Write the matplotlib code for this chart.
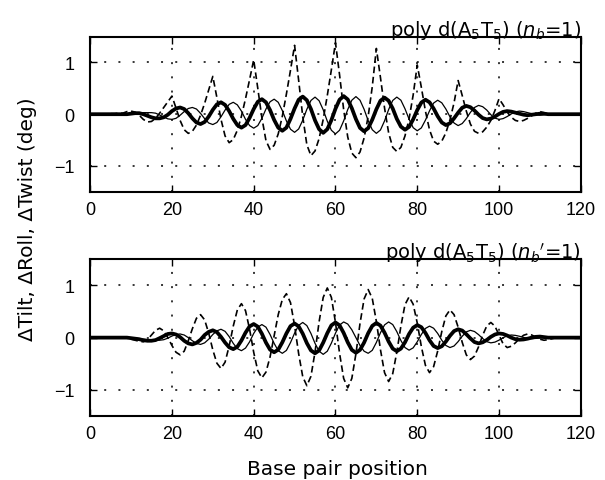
import numpy as np
import matplotlib
matplotlib.use("Agg")
import matplotlib.pyplot as plt

plt.rcParams["font.family"] = ["Liberation Sans", "DejaVu Sans"]
plt.rcParams["mathtext.fontset"] = "dejavusans"

# base pair positions
bp = np.arange(0, 121)

# ---- top panel: poly d(A5T5), n_b = 1 ----
top_dashed = [
    0, 0, 0, 0, 0, 0.01, 0.01, 0.02, 0.02, 0.05,
    0.06, 0.04, -0.02, -0.10, -0.15, -0.14, -0.08, 0.02, 0.13, 0.24,
    0.35, 0.12, -0.12, -0.30, -0.37, -0.33, -0.21, -0.02, 0.21, 0.47,
    0.73, 0.32, -0.10, -0.42, -0.55, -0.49, -0.31, -0.04, 0.30, 0.67,
    1.05, 0.50, -0.07, -0.51, -0.68, -0.60, -0.38, -0.04, 0.39, 0.85,
    1.33, 0.65, -0.05, -0.59, -0.80, -0.71, -0.47, -0.10, 0.36, 0.86,
    1.38, 0.76, 0.09, -0.44, -0.75, -0.84, -0.73, -0.46, -0.04, 0.53,
    1.27, 0.71, 0.12, -0.36, -0.64, -0.72, -0.64, -0.42, -0.09, 0.37,
    0.95, 0.52, 0.06, -0.30, -0.52, -0.58, -0.52, -0.36, -0.11, 0.22,
    0.65, 0.36, 0.06, -0.19, -0.33, -0.37, -0.34, -0.25, -0.12, 0.07,
    0.30, 0.18, 0.04, -0.06, -0.12, -0.14, -0.12, -0.08, -0.03, 0.02,
    0.05, 0.03, 0.0, -0.01, -0.01, 0, 0, 0, 0, 0,
    0,
]
top_thick = [
    0, 0, 0, 0, 0, 0, 0, 0, 0, 0,
    0.01, 0.02, 0.02, 0.0, -0.03, -0.06, -0.08, -0.08, -0.06, -0.01,
    0.06, 0.11, 0.13, 0.10, 0.02, -0.08, -0.16, -0.19, -0.15, -0.045,
    0.085, 0.19, 0.23, 0.18, 0.06, -0.09, -0.21, -0.26, -0.21, -0.07,
    0.10, 0.24, 0.29, 0.23, 0.08, -0.11, -0.26, -0.32, -0.26, -0.09,
    0.11, 0.28, 0.34, 0.27, 0.10, -0.12, -0.29, -0.36, -0.29, -0.115,
    0.105, 0.28, 0.35, 0.285, 0.115, -0.095, -0.265, -0.33, -0.27, -0.105,
    0.095, 0.26, 0.32, 0.26, 0.11, -0.09, -0.24, -0.30, -0.245, -0.10,
    0.08, 0.225, 0.28, 0.23, 0.11, -0.04, -0.16, -0.21, -0.175, -0.08,
    0.03, 0.125, 0.16, 0.135, 0.07, -0.01, -0.075, -0.10, -0.085, -0.045,
    0.005, 0.045, 0.06, 0.05, 0.03, 0.01, -0.01, -0.02, -0.01, 0.0,
    0.01, 0.01, 0, 0, 0, 0, 0, 0, 0, 0,
    0,
]
top_thin = [
    0, 0, 0, 0, 0, 0, 0, 0, 0, 0,
    0.01, 0.02, 0.03, 0.03, 0.03, 0.03, 0.02, -0.015, -0.055, -0.09,
    -0.10, -0.08, -0.02, 0.05, 0.11, 0.13, 0.10, 0.016, -0.086, -0.17,
    -0.20, -0.16, -0.05, 0.08, 0.19, 0.23, 0.18, 0.06, -0.10, -0.22,
    -0.27, -0.22, -0.08, 0.10, 0.24, 0.29, 0.23, 0.07, -0.13, -0.29,
    -0.35, -0.285, -0.115, 0.095, 0.265, 0.33, 0.26, 0.085, -0.135, -0.31,
    -0.38, -0.31, -0.13, 0.09, 0.27, 0.34, 0.27, 0.095, -0.125, -0.30,
    -0.37, -0.305, -0.13, 0.09, 0.265, 0.33, 0.27, 0.105, -0.095, -0.26,
    -0.32, -0.265, -0.115, 0.065, 0.215, 0.27, 0.22, 0.10, -0.05, -0.17,
    -0.22, -0.18, -0.085, 0.035, 0.13, 0.17, 0.145, 0.08, -0.01, -0.075,
    -0.10, -0.085, -0.045, 0.005, 0.045, 0.06, 0.05, 0.03, 0.01, -0.01,
    -0.02, -0.01, 0, 0, 0, 0, 0, 0, 0, 0,
    0,
]

# ---- bottom panel: poly d(A5T5), n_b' = 1 ----
bot_dashed = [
    0, 0, 0, 0, 0, 0, 0, 0, 0, -0.01,
    -0.03, -0.05, -0.07, -0.08, -0.04, 0.05, 0.14, 0.18, 0.13, 0.0,
    -0.15, -0.28, -0.33, -0.26, -0.06, 0.17, 0.37, 0.44, 0.34, 0.085,
    -0.235, -0.49, -0.59, -0.47, -0.16, 0.22, 0.53, 0.65, 0.515, 0.16,
    -0.28, -0.635, -0.77, -0.66, -0.37, 0.035, 0.44, 0.73, 0.84, 0.67,
    0.23, -0.31, -0.75, -0.92, -0.74, -0.275, 0.305, 0.77, 0.95, 0.77,
    0.29, -0.30, -0.78, -0.96, -0.78, -0.31, 0.27, 0.74, 0.92, 0.75,
    0.31, -0.23, -0.67, -0.84, -0.69, -0.28, 0.22, 0.63, 0.78, 0.64,
    0.28, -0.17, -0.53, -0.67, -0.556, -0.256, 0.116, 0.416, 0.53, 0.44,
    0.20, -0.09, -0.33, -0.42, -0.353, -0.175, 0.045, 0.223, 0.29, 0.22,
    0.05, -0.12, -0.19, -0.165, -0.10, -0.02, 0.045, 0.07, 0.05, 0.01,
    -0.03, -0.05, -0.04, -0.02, 0.0, 0.01, 0.01, 0, 0, 0,
    0,
]
bot_thick = [
    0, 0, 0, 0, 0, 0, 0, 0, 0, 0,
    -0.01, -0.02, -0.03, -0.05, -0.06, -0.06, -0.047, -0.01, 0.03, 0.07,
    0.08, 0.06, 0.01, -0.06, -0.11, -0.13, -0.10, -0.04, 0.05, 0.11,
    0.14, 0.105, 0.015, -0.095, -0.185, -0.22, -0.175, -0.055, 0.095, 0.215,
    0.26, 0.21, 0.075, -0.095, -0.23, -0.28, -0.23, -0.09, 0.08, 0.22,
    0.27, 0.215, 0.075, -0.105, -0.245, -0.30, -0.245, -0.095, 0.085, 0.235,
    0.29, 0.235, 0.09, -0.09, -0.235, -0.29, -0.235, -0.095, 0.085, 0.225,
    0.28, 0.23, 0.095, -0.075, -0.21, -0.26, -0.21, -0.09, 0.07, 0.19,
    0.24, 0.20, 0.09, -0.05, -0.16, -0.20, -0.165, -0.075, 0.035, 0.125,
    0.16, 0.135, 0.065, -0.015, -0.085, -0.11, -0.09, -0.045, 0.015, 0.06,
    0.08, 0.07, 0.04, 0.0, -0.03, -0.04, -0.035, -0.02, 0.0, 0.015,
    0.02, 0.01, 0, 0, 0, 0, 0, 0, 0, 0,
    0,
]
bot_thin = [
    0, 0, 0, 0, 0, 0, 0, 0, 0, 0,
    -0.01, -0.01, -0.02, -0.03, -0.04, -0.05, -0.05, -0.05, -0.04, -0.01,
    0.03, 0.06, 0.07, 0.05, 0.0, -0.06, -0.11, -0.13, -0.10, -0.03,
    0.06, 0.13, 0.16, 0.12, 0.02, -0.11, -0.21, -0.25, -0.20, -0.08,
    0.08, 0.20, 0.25, 0.20, 0.06, -0.11, -0.25, -0.30, -0.245, -0.095,
    0.085, 0.235, 0.29, 0.23, 0.08, -0.11, -0.26, -0.32, -0.26, -0.105,
    0.085, 0.24, 0.30, 0.26, 0.15, 0.0, -0.15, -0.26, -0.30, -0.243,
    -0.093, 0.093, 0.243, 0.30, 0.25, 0.115, -0.055, -0.19, -0.24, -0.196,
    -0.08, 0.06, 0.176, 0.22, 0.18, 0.08, -0.05, -0.15, -0.19, -0.16,
    -0.076, 0.026, 0.11, 0.14, 0.117, 0.057, -0.017, -0.077, -0.10, -0.086,
    -0.048, -0.002, 0.036, 0.05, 0.043, 0.026, 0.004, -0.013, -0.02, -0.015,
    -0.01, 0, 0, 0, 0, 0, 0, 0, 0, 0,
    0,
]

titles = [r"poly d(A$_5$T$_5$) ($n_b$=1)", r"poly d(A$_5$T$_5$) ($n_b$$'$=1)"]
label_font = "DejaVu Sans"


def style_axes(ax, title):
    ax.set_xlim(0, 120)
    ax.set_ylim(-1.5, 1.5)
    ax.set_xticks(range(0, 121, 20))
    ax.set_yticks([-1, 0, 1])
    ax.grid(True, color="black", linestyle=(0, (1.3, 8.0)), linewidth=1.1)
    ax.tick_params(direction="in", top=True, right=True, length=5, width=1,
                   labelsize=13)
    ax.tick_params(axis="x", pad=6.5)
    ax.tick_params(axis="y", pad=11)
    for s in ax.spines.values():
        s.set_linewidth(1.5)
    ax.set_title(title, loc="right", fontsize=14, pad=1, family=label_font)


fig = plt.figure(figsize=(6.05, 4.81), dpi=100)
ax_top = fig.add_axes([0.149, 0.599, 0.811, 0.323])
ax_bot = fig.add_axes([0.149, 0.133, 0.811, 0.326])

for ax, dashed, thick, thin, title in [
    (ax_top, top_dashed, top_thick, top_thin, titles[0]),
    (ax_bot, bot_dashed, bot_thick, bot_thin, titles[1]),
]:
    ax.plot(bp, thin, color="black", linewidth=0.9)
    ax.plot(bp, thick, color="black", linewidth=2.7)
    ax.plot(bp, dashed, color="black", linewidth=1.2, dashes=(4.0, 2.2))
    style_axes(ax, title)

fig.text(0.046, 0.545, "\u0394Tilt, \u0394Roll, \u0394Twist (deg)",
         rotation=90, ha="center", va="center", fontsize=14.5,
         family=label_font)
fig.text(0.558, 0.012, "Base pair position", ha="center", va="baseline",
         fontsize=14.5, family=label_font)

fig.savefig("out.png", dpi=100)
